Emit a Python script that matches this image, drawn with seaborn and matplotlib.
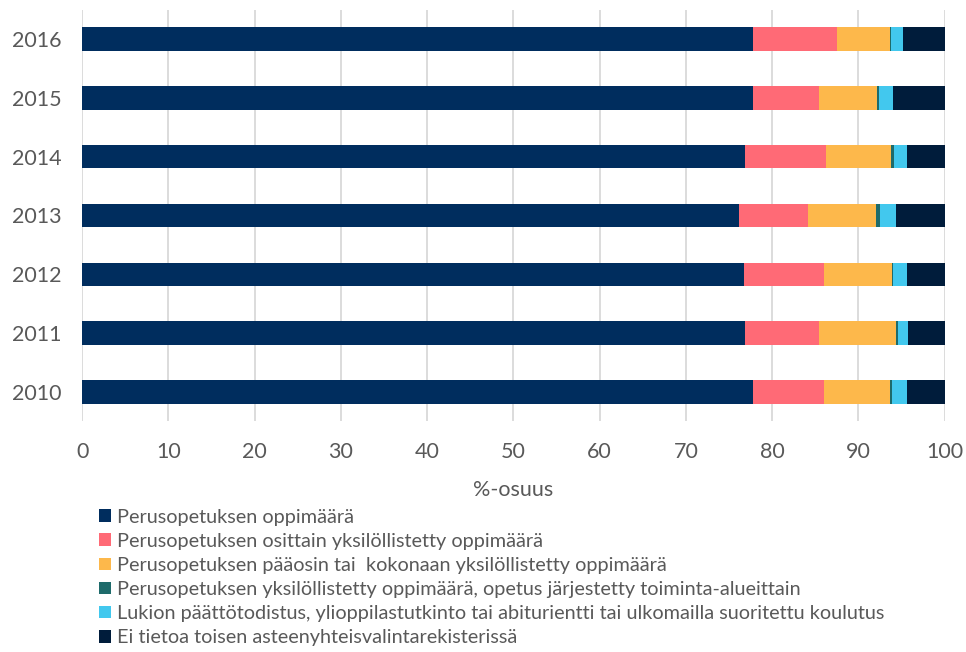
import numpy as np
import pandas as pd
import matplotlib
matplotlib.use('Agg')
import matplotlib.pyplot as plt
import seaborn as sns

# Data (% shares per year)
vuodet = ['2016', '2015', '2014', '2013', '2012', '2011', '2010']
oppimaara = [77.8, 77.8, 76.85, 76.2, 76.7, 76.8, 77.8]
osittain = [9.7, 7.6, 9.35, 7.95, 9.3, 8.6, 8.2]
paaosin = [6.15, 6.8, 7.6, 7.85, 7.9, 9.0, 7.7]
toiminta = [0.15, 0.2, 0.3, 0.5, 0.1, 0.2, 0.2]
lukio = [1.4, 1.6, 1.55, 1.9, 1.6, 1.1, 1.7]
ei_tietoa = [4.8, 6.0, 4.35, 5.6, 4.4, 4.3, 4.4]

sarjat = ['Perusopetuksen oppimäärä',
          'Perusopetuksen osittain yksilöllistetty oppimäärä',
          'Perusopetuksen pääosin tai  kokonaan yksilöllistetty oppimäärä',
          'Perusopetuksen yksilöllistetty oppimäärä, opetus järjestetty toiminta-alueittain',
          'Lukion päättötodistus, ylioppilastutkinto tai abiturientti tai ulkomailla suoritettu koulutus',
          'Ei tietoa toisen asteenyhteisvalintarekisterissä']
varit = ['#002D5E', '#FF6A76', '#FDB84B', '#1E6B6B', '#42C8EE', '#001C3B']

df = pd.DataFrame({'Vuosi': vuodet})
for nimi, arvot in zip(sarjat, [oppimaara, osittain, paaosin, toiminta, lukio, ei_tietoa]):
    df[nimi] = arvot

# Kumulatiiviset summat pinottua pylväskaaviota varten
kum = df[sarjat].cumsum(axis=1)

sns.set_theme(style='white')
plt.rcParams['font.family'] = ['Lato', 'DejaVu Sans']

fig = plt.figure(figsize=(9.66, 6.52), dpi=100)
ax = fig.add_axes([0.085, 0.354, 0.893, 0.631])

# Piirretään pisimmästä lyhimpään, jolloin pylväät pinoutuvat
for nimi, vari in reversed(list(zip(sarjat, varit))):
    sns.barplot(x=kum[nimi], y=df['Vuosi'], color=vari, width=0.4,
                orient='h', ax=ax, label=nimi, saturation=1, linewidth=0)

ax.set_xlim(0, 100)
ax.set_ylim(6.5, -0.5)
ax.set_xticks(range(0, 101, 10))
ax.grid(axis='x', color='#D9D9D9', linewidth=1.3)
ax.set_axisbelow(True)
sns.despine(ax=ax, left=True, bottom=True)
ax.tick_params(axis='both', length=0, labelsize=15.5, labelcolor='#595959')
ax.tick_params(axis='x', pad=15)
ax.tick_params(axis='y', pad=15)
ax.set_ylabel('')
ax.set_xlabel('%-osuus', fontsize=15.5, color='#595959', labelpad=13)

handles, labels = ax.get_legend_handles_labels()
jarjestys = [labels.index(s) for s in sarjat]
if ax.legend_:
    ax.legend_.remove()
fig.legend([handles[i] for i in jarjestys], [labels[i] for i in jarjestys],
           loc='upper left', bbox_to_anchor=(0.103, 0.22), frameon=False,
           fontsize=14.3, labelcolor='#595959', handlelength=0.6, handleheight=0.6,
           handletextpad=0.3, labelspacing=0.36, borderaxespad=0, borderpad=0)

fig.savefig('out.png', dpi=100)
